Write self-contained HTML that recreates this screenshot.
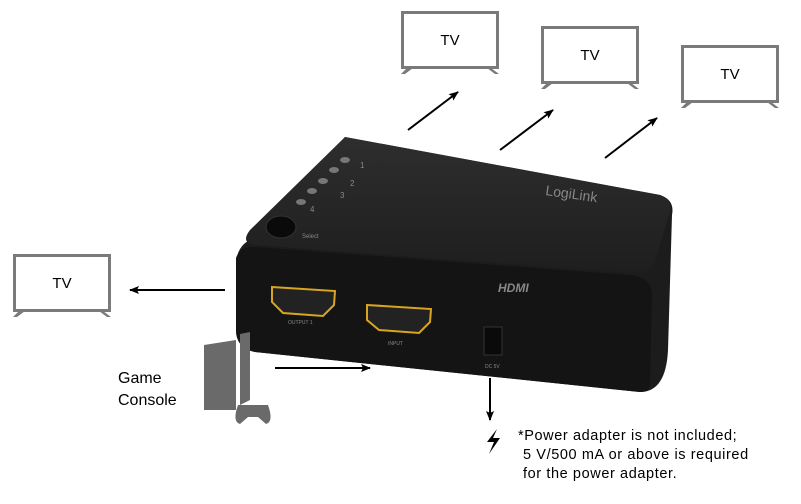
<!DOCTYPE html>
<html><head><style>
body{margin:0;background:#fff;width:801px;height:504px;overflow:hidden}
svg{display:block}
text{font-family:"Liberation Sans",sans-serif}
</style></head><body>
<svg width="801" height="504" viewBox="0 0 801 504">
<defs>
<marker id="a" markerWidth="10" markerHeight="8" refX="9" refY="4" orient="auto" markerUnits="userSpaceOnUse"><path d="M0,0 L10,4 L0,8 L2,4z" fill="#000"/></marker>
<g id="tv">
<rect x="1.5" y="1.5" width="95" height="55" fill="#fff" stroke="#7a7a7a" stroke-width="3"/>
<path d="M6,57 L0,63 L4,63 L12,57z M90,57 L98,63 L94,63 L86,57z" fill="#7a7a7a"/>
<text x="49" y="34" font-size="15" text-anchor="middle">TV</text>
</g>
<linearGradient id="top" x1="0" y1="0" x2="0" y2="1"><stop offset="0" stop-color="#2e2e2e"/><stop offset="1" stop-color="#1e1e1e"/></linearGradient>
</defs>
<use href="#tv" x="401" y="11"/>
<use href="#tv" x="541" y="26"/>
<use href="#tv" x="681" y="45"/>
<use href="#tv" x="13" y="254"/>
<g stroke="#000" stroke-width="2" fill="none" marker-end="url(#a)">
<line x1="408" y1="130" x2="458" y2="92"/>
<line x1="500" y1="150" x2="553" y2="110"/>
<line x1="605" y1="158" x2="657" y2="118"/>
<line x1="225" y1="290" x2="130" y2="290"/>
<line x1="275" y1="368" x2="370" y2="368"/>
<line x1="490" y1="378" x2="490" y2="420"/>
</g>
<!-- device -->
<path d="M345,137 L660,195 Q675,200 672,215 L668,350 Q666,392 640,392 L255,352 Q236,348 236,330 L236,262 Q238,243 255,238 Z" fill="#1c1c1c"/>
<path d="M345,137 L660,195 Q675,200 668,218 L655,262 Q650,275 632,273 L255,245 Q240,243 250,230 Z" fill="url(#top)"/>
<path d="M236,258 Q240,246 256,247 L630,275 Q652,277 652,295 L650,385 Q648,392 640,392 L255,352 Q236,348 236,330Z" fill="#141414"/>
<g fill="#777"><ellipse cx="345" cy="160" rx="5" ry="3"/><ellipse cx="334" cy="170" rx="5" ry="3"/><ellipse cx="323" cy="181" rx="5" ry="3"/><ellipse cx="312" cy="191" rx="5" ry="3"/><ellipse cx="301" cy="202" rx="5" ry="3"/></g>
<g fill="#888" font-size="8"><text x="360" y="168">1</text><text x="350" y="186">2</text><text x="340" y="198">3</text><text x="310" y="212">4</text></g>
<ellipse cx="281" cy="227" rx="15" ry="11" fill="#0a0a0a" stroke="#333"/>
<text x="302" y="238" fill="#888" font-size="6">Select</text>
<text x="545" y="195" fill="#888" font-size="14" transform="rotate(8 545 195)">LogiLink</text>
<text x="498" y="292" fill="#888" font-size="12" font-weight="bold" font-style="italic">HDMI</text>
<path d="M272,287 L335,291 L334,305 L323,316 L283,313 L272,302Z" fill="#222" stroke="#d9a520" stroke-width="2"/>
<path d="M367,305 L431,309 L430,322 L419,333 L379,330 L367,320Z" fill="#222" stroke="#d9a520" stroke-width="2"/>
<rect x="484" y="327" width="18" height="28" fill="#0a0a0a" stroke="#333"/>
<text x="288" y="324" fill="#888" font-size="5">OUTPUT 1</text>
<text x="388" y="345" fill="#888" font-size="5">INPUT</text>
<text x="485" y="368" fill="#888" font-size="5">DC 5V</text>
<!-- console -->
<path d="M204,345 L236,340 L236,410 L204,410Z" fill="#6a6a6a"/>
<path d="M240,334 L250,332 L250,400 L240,405Z" fill="#6a6a6a"/>
<path d="M238,405 Q232,422 240,424 L248,417 L258,417 L266,424 Q274,422 268,405Z" fill="#6a6a6a"/>
<text x="118" y="383" font-size="16">Game</text>
<text x="118" y="405" font-size="16">Console</text>
<path d="M497,429 L487,442 L494,442 L489,454 L500,438 L493,438Z" fill="#000"/>
<g font-size="14.5" letter-spacing="0.6"><text x="518" y="440">*Power adapter is not included;</text><text x="523" y="459">5 V/500 mA or above is required</text><text x="523" y="478">for the power adapter.</text></g>
</svg>
</body></html>
